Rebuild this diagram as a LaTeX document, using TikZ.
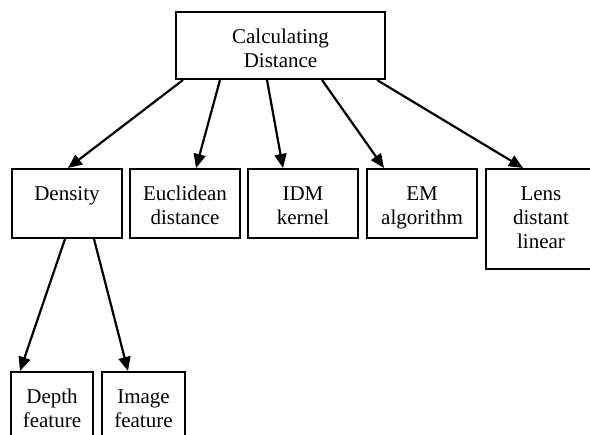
\documentclass[tikz,border=0pt]{standalone}
\usepackage{fontspec}
\setmainfont{Liberation Serif}
\usepackage{tikz}
\usetikzlibrary{arrows.meta}

\newcommand{\boxlabel}[3]{\parbox[c][#2][t]{#1}{\centering\rule{0pt}{32pt}#3}}

\begin{document}
\begin{tikzpicture}[x=1pt, y=1pt,
  box/.style={draw, line width=2pt, inner sep=0pt, anchor=north west,
    font=\fontsize{21}{24}\selectfont},
  arr/.style={line width=2.2pt, -{Triangle[length=14pt, width=12pt]}}]

 \useasboundingbox (0,0) rectangle (590,-435);

 \node [box] (calc) at (175,-11) {\boxlabel{209pt}{67pt}{Calculating\\Distance}};

 \node [box] (dens) at (11,-168) {\boxlabel{110pt}{69pt}{Density}};
 \node [box] (eucl) at (129,-168) {\boxlabel{110pt}{69pt}{Euclidean\\distance}};
 \node [box] (idm) at (247,-168) {\boxlabel{110pt}{69pt}{IDM\\kernel}};
 \node [box] (em) at (366,-168) {\boxlabel{110pt}{69pt}{EM\\algorithm}};
 \node [box] (lens) at (485,-168) {\boxlabel{110pt}{100pt}{Lens\\distant\\linear}};

 \node [box] (depth) at (10,-371) {\boxlabel{82pt}{80pt}{Depth\\feature}};
 \node [box] (image) at (101,-371) {\boxlabel{83pt}{80pt}{Image\\feature}};

 % top level
 \draw [arr] ([xshift=8pt]calc.south west) -- ([xshift=57pt]dens.north west);
 \draw [arr] ([xshift=45pt]calc.south west) -- ([xshift=67pt]eucl.north west);
 \draw [arr] ([xshift=92pt]calc.south west) -- ([xshift=36pt]idm.north west);
 \draw [arr] ([xshift=147pt]calc.south west) -- ([xshift=18pt]em.north west);
 \draw [arr] ([xshift=202pt]calc.south west) -- ([xshift=38pt]lens.north west);

 % density
 \draw [arr] ([xshift=54pt]dens.south west) -- ([xshift=10pt]depth.north west);
 \draw [arr] ([xshift=83pt]dens.south west) -- ([xshift=27pt]image.north west);

\end{tikzpicture}
\end{document}
